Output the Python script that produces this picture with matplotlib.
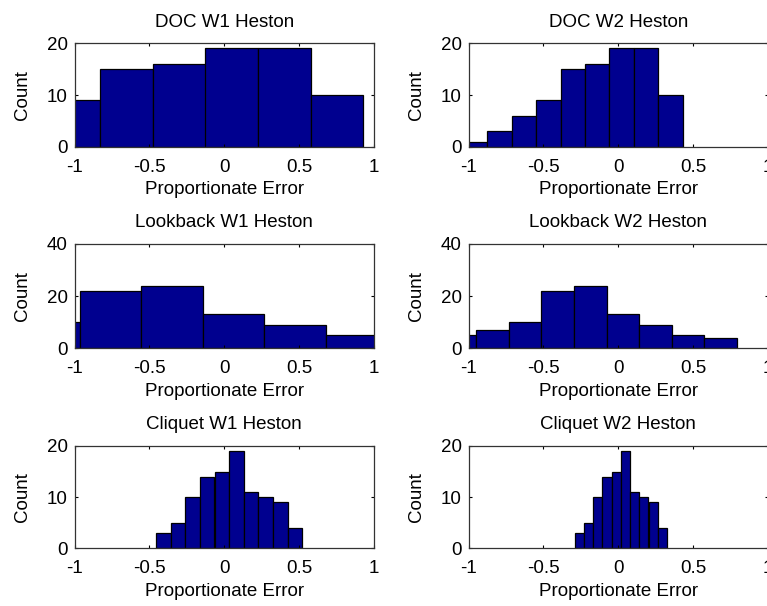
import numpy as np
import matplotlib
matplotlib.use("Agg")
import matplotlib.pyplot as plt

plt.rcParams['font.family'] = ['Liberation Sans', 'DejaVu Sans']

# Histogram bin centres and counts for each panel
doc_w1_centers = [-1.002, -0.651, -0.300, 0.050, 0.401, 0.752]
doc_w1_counts = [9, 15, 16, 19, 19, 10]

doc_w2_centers = [-0.956, -0.793, -0.630, -0.467, -0.304, -0.141, 0.022, 0.185, 0.348]
doc_w2_counts = [1, 3, 6, 9, 15, 16, 19, 19, 10]

lookback_w1_centers = [-1.172, -0.761, -0.350, 0.061, 0.472, 0.883]
lookback_w1_counts = [10, 22, 24, 13, 9, 5]

lookback_w2_centers = [-1.058, -0.840, -0.622, -0.405, -0.187, 0.031, 0.249, 0.466, 0.684]
lookback_w2_counts = [5, 7, 10, 22, 24, 13, 9, 5, 4]

cliquet_w1_centers = [-0.407, -0.309, -0.212, -0.114, -0.016, 0.081, 0.179, 0.277, 0.374, 0.472]
cliquet_w1_counts = [3, 5, 10, 14, 15, 19, 11, 10, 9, 4]

cliquet_w2_centers = [-0.259, -0.198, -0.136, -0.075, -0.013, 0.048, 0.110, 0.171, 0.233, 0.294]
cliquet_w2_counts = [3, 5, 10, 14, 15, 19, 11, 10, 9, 4]

titles = ["DOC W1 Heston", "DOC W2 Heston",
          "Lookback W1 Heston", "Lookback W2 Heston",
          "Cliquet W1 Heston", "Cliquet W2 Heston"]
panels = [(doc_w1_centers, doc_w1_counts), (doc_w2_centers, doc_w2_counts),
          (lookback_w1_centers, lookback_w1_counts), (lookback_w2_centers, lookback_w2_counts),
          (cliquet_w1_centers, cliquet_w1_counts), (cliquet_w2_centers, cliquet_w2_counts)]
y_max = [20, 20, 40, 40, 20, 20]
x_ticks = [-1, -0.5, 0, 0.5, 1]
x_ticklabels = ["-1", "-0.5", "0", "0.5", "1"]

W, H = 767, 606
fig = plt.figure(figsize=(W / 100, H / 100), dpi=100)

col_lr = [(74.5, 374.0), (468.5, 768.0)]
row_tb = [(43.3, 146.7), (244.0, 348.3), (446.0, 548.3)]

bar_color = (0, 0, 0.5625)
fs = 13.5

for i, ((centers, counts), title, ymax) in enumerate(zip(panels, titles, y_max)):
    r, c = divmod(i, 2)
    l, rr = col_lr[c]
    t, b = row_tb[r]
    ax = fig.add_axes([l / W, 1 - b / H, (rr - l) / W, (b - t) / H])
    centers = np.asarray(centers)
    width = np.mean(np.diff(centers))
    ax.bar(centers, counts, width=width, color=bar_color, edgecolor='black',
           linewidth=0.9, align='center')
    ax.set_xlim(-1, 1)
    ax.set_ylim(0, ymax)
    ax.set_xticks(x_ticks)
    ax.set_xticklabels(x_ticklabels)
    ax.set_yticks([0, ymax / 2, ymax])
    ax.set_yticklabels([str(int(v)) for v in (0, ymax / 2, ymax)])
    ax.tick_params(direction='in', length=2.2, width=0.8, top=True, right=True,
                   labelsize=fs, color='black')
    ax.tick_params(axis='x', pad=8.5)
    ax.tick_params(axis='y', pad=5)
    for s in ax.spines.values():
        s.set_linewidth(0.9)
        s.set_color('#333333')
    ax.set_title(title, fontsize=fs, pad=12)
    ax.set_xlabel("Proportionate Error", fontsize=fs, labelpad=4)
    ax.set_ylabel("Count", fontsize=fs, labelpad=11.5)

fig.savefig("out.png", dpi=100)
